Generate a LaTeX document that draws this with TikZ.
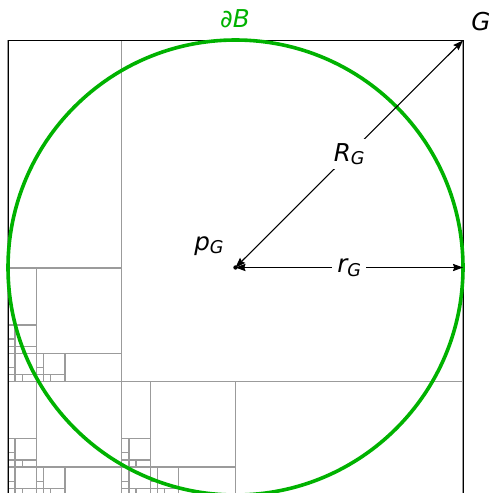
\documentclass[tikz,border=0pt]{standalone}
\usepackage{fontspec}
\setmainfont{DejaVu Sans}
\usetikzlibrary{arrows.meta}
\definecolor{bgreen}{RGB}{0,178,0}
\definecolor{gridgray}{RGB}{155,155,155}
\newcommand\qsub[1]{\raisebox{-1.8pt}{\fontsize{8.8}{10}\selectfont #1}}
\newcommand\qtpat[4]{%
  \ifnum#4>0\relax
    \draw[gridline] ({#1+(#3)/4},{#2-(#3)}) rectangle ({#1+(#3)},{#2-(#3)/4});
    \draw[gridline] ({#1},{#2-(#3)}) rectangle ({#1+(#3)/4},{#2-(#3)/2});
    \draw[gridline] ({#1+(#3)/2},{#2-(#3)/4}) rectangle ({#1+(#3)},{#2});
    \qtpat{#1}{#2-(#3)/4}{(#3)/4}{\the\numexpr#4-1\relax}%
    \qtpat{#1}{#2}{(#3)/4}{\the\numexpr#4-1\relax}%
    \qtpat{#1+(#3)/4}{#2}{(#3)/4}{\the\numexpr#4-1\relax}%
  \else
    \draw[gridline] ({#1},{#2}) rectangle ({#1+(#3)},{#2-(#3)});
  \fi}
\begin{document}
\begin{tikzpicture}[x=0.5pt,y=-0.5pt,
  gridline/.style={draw=gridgray, line width=0.65pt},
  lbl/.style={font=\fontsize{12.3}{15}\selectfont\itshape, inner sep=1pt},
  arrowline/.style={black, line width=0.55pt, {Stealth[length=5pt,width=3.6pt,inset=0.6pt]}-{Stealth[length=5pt,width=3.6pt,inset=0.6pt]}},
  boundary/.style={draw=bgreen, line width=1.8pt}]
\useasboundingbox (0,0) rectangle (492,493);
\clip (0,0) rectangle (492,493);
\fill[white] (0,0) rectangle (492,493);
% quadtree-like subdivision
\qtpat{8}{495.5}{455}{3}
\draw[black, line width=0.5pt] (8,40.5) rectangle (463,495.5);
% points
\coordinate (pG) at (235.5,267.5);
\coordinate (cG) at (463,40.5);
\coordinate (rE) at (463,267.5);
% circle
\draw[boundary] (pG) circle[radius=113.75pt];
% arrows
\draw[arrowline] (pG) -- node[lbl, fill=white, inner sep=2pt] (Rlbl) {R\qsub{G}} (cG);
\draw[arrowline] (pG) -- node[lbl, fill=white, inner sep=2.5pt] (rlbl) {r\qsub{G}} (rE);
\fill (pG) circle[radius=1.1pt];
% labels
\node[lbl] (Glbl) at (481,22) {G};
\node[lbl, text=bgreen] (dB) at (235,19) {∂B};
\node[lbl] (plbl) at (209,246) {p\qsub{G}};
\end{tikzpicture}
\end{document}
